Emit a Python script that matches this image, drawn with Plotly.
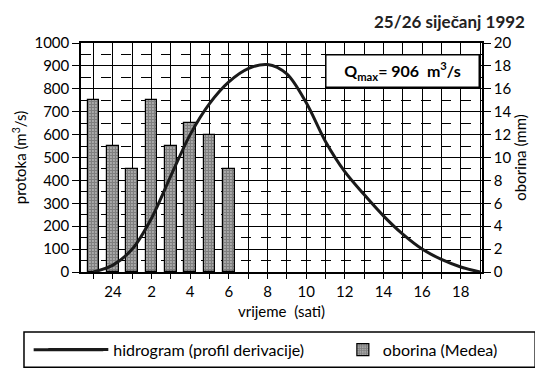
import plotly.graph_objects as go

# ---- data ----
flow_hours = [23, 24, 1, 2, 3, 4, 5, 6, 7, 8, 9, 10, 11, 12, 13, 14, 15, 16, 17, 18, 19]
flow_values = [0, 30, 100, 235, 420, 600, 735, 830, 888, 906, 865, 740, 570, 438, 338, 245, 165, 100, 55, 22, 0]

rain_hours = [23, 24, 1, 2, 3, 4, 5, 6]
rain_values = [15, 11, 9, 15, 11, 13, 12, 9]

x_tick_hours = [24, 2, 4, 6, 8, 10, 12, 14, 16, 18]
x_tick_labels = ["24", "2", "4", "6", "8", "10", "12", "14", "16", "18"]

flow_name = "hidrogram (profil derivacije)"
rain_name = "oborina (Medea)"
title_text = "25/26 siječanj 1992"
qmax_text = "<b>Q<sub>max</sub>= 906  m<sup>3</sup>/s</b>"


def elapsed(h):
    # hours elapsed since midnight 25/26 (23 h -> -1, 24 h -> 0)
    return h - 24 if h >= 23 else h


FONT = "Lato"
OFF = 8  # page body margin
W, H = 543 - OFF, 378 - OFF
L, T = 67 - OFF, 43 - OFF
R = W - (482 - OFF)
B = H - (276 - OFF)
PW, PH = W - L - R, H - T - B


def px_x(x):
    return (x - OFF - L) / PW


def px_y(y):
    return (H - B - (y - OFF)) / PH


fig = go.Figure()

fig.add_trace(go.Bar(
    x=[elapsed(h) for h in rain_hours], y=rain_values, name=rain_name,
    yaxis="y", width=0.6,
    marker=dict(color="white", line=dict(color="black", width=1.2),
                pattern=dict(shape=".", fgcolor="black", bgcolor="white", size=3, solidity=0.8)),
    legend="legend2",
))

fig.add_trace(go.Scatter(
    x=[elapsed(h) for h in flow_hours], y=flow_values, name=flow_name,
    yaxis="y2", mode="lines", line=dict(color="#1a1a1a", width=3, shape="spline", smoothing=0.9),
    legend="legend",
))

fig.update_layout(
    width=W, height=H,
    margin=dict(l=L, r=R, t=T, b=B),
    paper_bgcolor="white", plot_bgcolor="white",
    font=dict(family=FONT, size=14, color="black"),
    showlegend=True,
    xaxis=dict(
        range=[-1.65, 19.1], anchor="y",
        tickmode="array", tickvals=[elapsed(h) for h in x_tick_hours], ticktext=x_tick_labels,
        ticks="outside", ticklen=5, tickcolor="black", tickwidth=1,
        showgrid=True, gridcolor="black", gridwidth=1,
        minor=dict(dtick=1, tick0=0, showgrid=True, gridcolor="black", gridwidth=1,
                   ticks="outside", ticklen=5, tickcolor="black"),
        showline=True, linecolor="black", linewidth=1.5, mirror=True,
        zeroline=False,
        title=dict(text="vrijeme  (sati)", standoff=8, font=dict(size=15)),
        tickfont=dict(size=15),
    ),
    yaxis=dict(
        range=[0, 20], side="right", dtick=2, tick0=0,
        ticks="outside", ticklen=7, tickcolor="black",
        showgrid=False, zeroline=False,
        showline=True, linecolor="black", linewidth=1.5,
        title=dict(text="oborina (mm)", standoff=4, font=dict(size=15)),
        tickfont=dict(size=15),
    ),
    yaxis2=dict(
        range=[0, 1000], overlaying="y", side="left", dtick=100, tick0=0,
        ticks="outside", ticklen=7, tickcolor="black",
        showgrid=True, gridcolor="black", gridwidth=1, zeroline=False,
        minor=dict(tick0=50, dtick=100, showgrid=True, gridcolor="black", gridwidth=1,
                   griddash="10px,10px", ticks=""),
        showline=True, linecolor="black", linewidth=1.5,
        title=dict(text="protoka (m<sup>3</sup>/s)", standoff=4, font=dict(size=15)),
        tickfont=dict(size=15),
    ),
    legend=dict(x=px_x(28), xanchor="left", y=px_y(355), yanchor="middle",
                orientation="h", itemwidth=60, bgcolor="rgba(0,0,0,0)", borderwidth=0,
                font=dict(size=16)),
    legend2=dict(x=px_x(338), xanchor="left", y=px_y(355), yanchor="middle",
                 orientation="h", bgcolor="rgba(0,0,0,0)", borderwidth=0,
                 font=dict(size=16)),
    bargap=0,
)

# legend frame and longer line sample
fig.add_shape(type="rect", xref="paper", yref="paper",
              x0=px_x(8), x1=px_x(537), y0=px_y(373), y1=px_y(337),
              line=dict(color="black", width=1.5), fillcolor="rgba(0,0,0,0)", layer="above")
fig.add_shape(type="line", xref="paper", yref="paper",
              x0=px_x(18), x1=px_x(90), y0=px_y(355), y1=px_y(355),
              line=dict(color="#1a1a1a", width=3), layer="above")

# chart title (date)
fig.add_annotation(
    text="<b>" + title_text + "</b>", xref="paper", yref="paper",
    x=px_x(528), y=px_y(9), xanchor="right", yanchor="top", borderpad=0,
    showarrow=False, font=dict(family=FONT, size=17, color="#222"),
)

fig.add_annotation(
    text=qmax_text, xref="paper", yref="paper",
    x=px_x(400), y=px_y(71.5), xanchor="center", yanchor="middle",
    showarrow=False, bgcolor="white", bordercolor="black", borderwidth=1.5,
    width=150, height=29, font=dict(family=FONT, size=16, color="black"),
)

fig.write_html("out.html")
